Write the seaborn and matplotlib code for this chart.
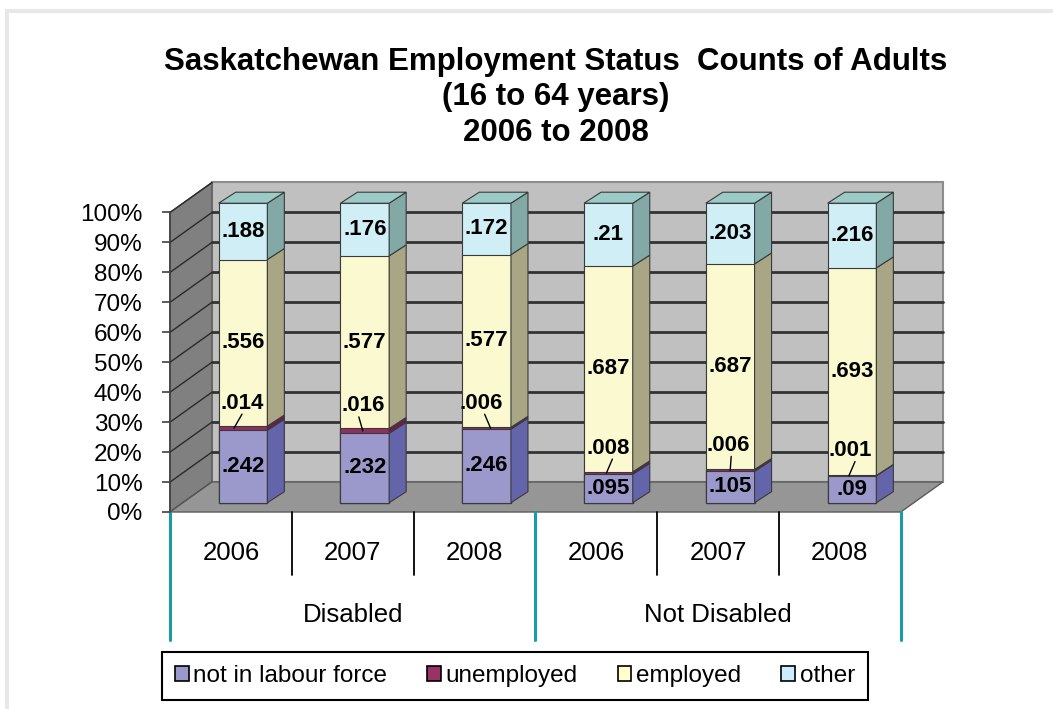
import numpy as np
import pandas as pd
import matplotlib
matplotlib.use("Agg")
import matplotlib.pyplot as plt
from matplotlib.patches import Patch, Polygon, Rectangle
import seaborn as sns

# Chart values.
groups = ["Disabled", "Not Disabled"]
years = ["2006", "2007", "2008"]
statuses = ["not in labour force", "unemployed", "employed", "other"]
not_in_labour_force = [0.242, 0.232, 0.246, 0.095, 0.105, 0.090]
unemployed = [0.014, 0.016, 0.006, 0.008, 0.006, 0.001]
employed = [0.556, 0.577, 0.577, 0.687, 0.687, 0.693]
other = [0.188, 0.176, 0.172, 0.210, 0.203, 0.216]
y_ticks = [0, 10, 20, 30, 40, 50, 60, 70, 80, 90, 100]

# Colours: front face, side face, legend swatch.
front_colors = ["#9B98CC", "#8E3060", "#FBF9D0", "#D0EEF5"]
side_colors = ["#6464AA", "#6A2046", "#A8A685", "#82A9A6"]
legend_colors = ["#9999CC", "#993366", "#FFFFCC", "#CCECFF"]
top_color = "#9BCAC7"

# Build a long table, one row per bar segment.
cats = [f"{g} {y}" for g in groups for y in years]
values = [not_in_labour_force, unemployed, employed, other]
df = pd.DataFrame({"category": cats})
for name, vals in zip(statuses, values):
    df[name] = vals
df["total"] = df[statuses].sum(axis=1)
cum = np.zeros(len(df))
for name in statuses:
    df[name + "_bottom"] = cum
    cum = cum + df[name] / df["total"]
    df[name + "_top"] = cum

W, H = 1053, 709
sns.set_style("white")
plt.rcParams["font.family"] = ["Liberation Sans", "DejaVu Sans"]
plt.rcParams["text.color"] = "black"
plt.rcParams["ytick.labelcolor"] = "black"

fig = plt.figure(figsize=(W / 100, H / 100), dpi=100)
fig.patch.set_facecolor("white")
fig.add_artist(Rectangle((7 / W, -0.05), 1.2, 1.05 - 11 / H, transform=fig.transFigure,
                         facecolor="white", edgecolor="#E8E8E8", lw=3, zorder=-10))

# Geometry of the fake 3D box (pixel scale of one category / 100%).
PX_X, PX_Y = 121.8, 299.5
X0, Y0 = 243, 502.7                     # bar plane origin in pixels
fx, fy = -12.1 / PX_X, -9.3 / PX_Y      # bar plane -> front plane
dx, dy = 42 / PX_X, 30 / PX_Y           # front plane -> back wall
bdx, bdy = 17 / PX_X, 11 / PX_Y         # depth of a bar

L, R, T, B = 140, 965, 165, 525
ax = fig.add_axes([L / W, 1 - B / H, (R - L) / W, (B - T) / H])
ax.patch.set_alpha(0)

# Stacked bars: draw cumulative tops, largest first.
for name, col in reversed(list(zip(statuses, front_colors))):
    sns.barplot(data=df, x="category", y=name + "_top", color=col, saturation=1,
                width=0.4, errorbar=None, edgecolor="#3A3A3A", linewidth=0.8,
                zorder=3, ax=ax)

bars = ax.patches[:len(df)]
n = len(df)
xfl, xfr = -0.5 + fx, n - 0.5 + fx

# Walls and floor
ax.add_patch(Polygon([(xfl + dx, fy + dy), (xfr + dx, fy + dy), (xfr + dx, fy + dy + 1),
                      (xfl + dx, fy + dy + 1)], facecolor="#C0C0C0", edgecolor="#8C8C8C",
                     lw=1.5, zorder=1))
ax.add_patch(Polygon([(xfl, fy), (xfl + dx, fy + dy), (xfl + dx, fy + dy + 1), (xfl, fy + 1)],
                     facecolor="#808080", edgecolor="#5A5A5A", lw=1, zorder=1))
for t in y_ticks:
    v = t / 100
    ax.plot([xfl, xfl + dx], [fy + v, fy + dy + v], color="#2A2A2A", lw=1, zorder=1.6)
    if 0 < t < 100:
        ax.plot([xfl + dx, xfr + dx], [fy + dy + v, fy + dy + v], color="#333333",
                lw=2, zorder=1.5)
ax.add_patch(Polygon([(xfl, fy), (xfr, fy), (xfr + dx, fy + dy), (xfl + dx, fy + dy)],
                     facecolor="#969696", edgecolor="#5A5A5A", lw=1, zorder=2))

# Side and top faces of each bar
for i, p in enumerate(bars):
    xl = p.get_x()
    xr = xl + p.get_width()
    for name, sc in zip(statuses, side_colors):
        y0, y1 = df[name + "_bottom"][i], df[name + "_top"][i]
        ax.add_patch(Polygon([(xr, y0), (xr + bdx, y0 + bdy), (xr + bdx, y1 + bdy), (xr, y1)],
                             facecolor=sc, edgecolor="#3A3A3A", lw=0.8, zorder=3))
    ytop = df["other_top"][i]
    ax.add_patch(Polygon([(xl, ytop), (xr, ytop), (xr + bdx, ytop + bdy), (xl + bdx, ytop + bdy)],
                         facecolor=top_color, edgecolor="#3A3A3A", lw=0.8, zorder=3))

# Value labels
def fmt(v):
    return ("%g" % v).lstrip("0")

label_dx = [-1, -2, -5, 0, -2, -2]
leader_bottom_dx = [-9, -2, 4, -2, 0, -3]
leader_top_dx = [-1, -6, -2, 4, 1, 3]
for i in range(n):
    for name in statuses:
        y0, y1 = df[name + "_bottom"][i], df[name + "_top"][i]
        mid = (y0 + y1) / 2
        if name == "unemployed":
            ax.plot([i + leader_bottom_dx[i] / PX_X, i + leader_top_dx[i] / PX_X],
                    [mid, mid + 14 / PX_Y], color="black", lw=1, zorder=5)
            ax.text(i + label_dx[i] / PX_X, mid + 25 / PX_Y, fmt(df[name][i]),
                    ha="center", va="center", fontsize=16, fontweight="bold", zorder=6)
        else:
            ax.text(i, mid, fmt(df[name][i]), ha="center", va="center",
                    fontsize=16, fontweight="bold", zorder=6)

# Front axis with ticks
ax.set_yticks([fy + t / 100 for t in y_ticks])
ax.set_yticklabels([f"{t}%" for t in y_ticks])
ax.spines["left"].set_position(("data", xfl))
ax.spines["left"].set_bounds(fy, fy + 1)
ax.spines["left"].set_color("#404040")
ax.spines["left"].set_linewidth(1.2)
for s in ["top", "right", "bottom"]:
    ax.spines[s].set_visible(False)
ax.tick_params(axis="y", length=5.8, width=1.2, color="#404040", pad=14, left=True,
               labelsize=17.5, labelcolor="black")
ax.set_xticks([])
ax.set_xlabel("")
ax.set_ylabel("")

# Category axis below the floor
y_year = (Y0 - 553) / PX_Y
y_group = (Y0 - 615) / PX_Y
for k in range(n + 1):
    xk = k - 0.5 + fx
    if k % 3 == 0:
        ax.plot([xk, xk], [fy, (Y0 - 640) / PX_Y], color="#1A9BA5", lw=2.2,
                clip_on=False, zorder=2)
    else:
        ax.plot([xk, xk], [fy, (Y0 - 575) / PX_Y], color="black", lw=1.3,
                clip_on=False, zorder=2)
for i in range(n):
    ax.text(i + fx, y_year, years[i % 3], ha="center", va="center", fontsize=18.5,
            clip_on=False)
for j, g in enumerate(groups):
    ax.text(3 * j + 1 + fx, y_group, g, ha="center", va="center", fontsize=18.5,
            clip_on=False)

ax.set_xlim((L - X0) / PX_X, (R - X0) / PX_X)
ax.set_ylim((Y0 - B) / PX_Y, (Y0 - T) / PX_Y)

# Title
title_lines = ["Saskatchewan Employment Status  Counts of Adults", "(16 to 64 years)",
               "2006 to 2008"]
for line, ypx in zip(title_lines, [62, 97, 133]):
    fig.text(556 / W, 1 - ypx / H, line, ha="center", va="center", fontsize=22.5,
             fontweight="bold")

# Legend
handles = [Patch(facecolor=c, edgecolor="black", lw=1.2, label=s)
           for s, c in zip(statuses, legend_colors)]
leg = fig.legend(handles=handles, loc="center", bbox_to_anchor=(515 / W, 1 - 676 / H),
                 ncol=4, frameon=True, fancybox=False, edgecolor="black", framealpha=1,
                 fontsize=17.5, handlelength=0.55, handleheight=0.55, handletextpad=0.2,
                 columnspacing=1.65, borderpad=0.55, borderaxespad=0)
leg.get_frame().set_linewidth(1.5)

fig.savefig("out.png", dpi=100)
